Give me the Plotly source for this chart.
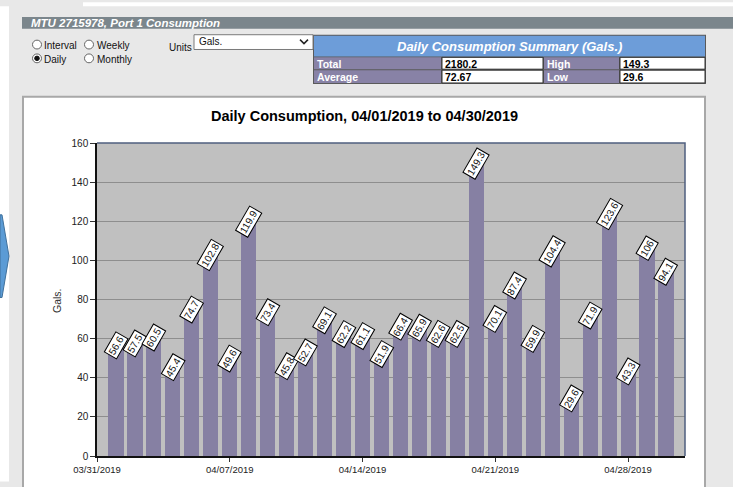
import plotly.graph_objects as go

# ---------------- data ----------------
dates = ["2019-04-01", "2019-04-02", "2019-04-03", "2019-04-04", "2019-04-05",
         "2019-04-06", "2019-04-07", "2019-04-08", "2019-04-09", "2019-04-10",
         "2019-04-11", "2019-04-12", "2019-04-13", "2019-04-14", "2019-04-15",
         "2019-04-16", "2019-04-17", "2019-04-18", "2019-04-19", "2019-04-20",
         "2019-04-21", "2019-04-22", "2019-04-23", "2019-04-24", "2019-04-25",
         "2019-04-26", "2019-04-27", "2019-04-28", "2019-04-29", "2019-04-30"]
gallons = [56.6, 57.5, 60.5, 45.4, 74.7, 102.8, 49.6, 119.9, 73.4, 45.8,
           52.7, 69.1, 62.2, 61.1, 51.9, 66.4, 65.9, 62.6, 62.5, 149.3,
           70.1, 87.4, 59.9, 104.4, 29.6, 71.9, 123.6, 43.3, 106, 94.1]
summary_labels = ["Total", "Average", "High", "Low"]
summary_values = ["2180.2", "72.67", "149.3", "29.6"]
radio_options = ["Interval", "Weekly", "Daily", "Monthly"]

W, H = 733, 487
L, R, T, B = 97, 685, 143, 461   # plot area in pixels


def X(px):
    return (px - L) / (R - L)


def Y(py):
    return (B - py) / (B - T)


FONT = "Liberation Sans, Arial, sans-serif"
NARROW = "Liberation Sans Narrow, Arial Narrow, Liberation Sans, sans-serif"
BAR = "#8680a3"

fig = go.Figure()
fig.add_trace(go.Bar(
    x=dates, y=gallons, width=0.8 * 86400000,
    marker=dict(color=BAR, line=dict(width=0)),
    hoverinfo="skip",
))

shapes = []


def rect(x0, y0, x1, y1, fill, line=None, lw=0, layer="below"):
    shapes.append(dict(type="rect", xref="paper", yref="paper",
                       x0=X(x0), x1=X(x1), y0=Y(y1), y1=Y(y0),
                       fillcolor=fill, layer=layer,
                       line=dict(color=line or fill, width=lw)))


def circle(cx, cy, r, fill, line, lw=1):
    shapes.append(dict(type="circle", xref="paper", yref="paper",
                       x0=X(cx - r), x1=X(cx + r), y0=Y(cy + r), y1=Y(cy - r),
                       fillcolor=fill, layer="above",
                       line=dict(color=line, width=lw)))


def path(pts, fill=None, line="#000", lw=1, close=False):
    d = "M " + " L ".join(f"{X(a):.5f},{Y(b):.5f}" for a, b in pts)
    if close:
        d += " Z"
    s = dict(type="path", xref="paper", yref="paper", path=d, layer="above",
             line=dict(color=line, width=lw))
    if fill:
        s["fillcolor"] = fill
    shapes.append(s)


# page pieces
rect(83, 0, 733, 4, "#ffffff")
rect(0, 4, 9, 487, "#ffffff")
rect(22, 15, 733, 27, "#7b868c")
# chart panel
rect(23, 96, 705, 495, "#ffffff", "#a8a8a8", 2)
# plot area
rect(L, T, R, B, "#c0c0c0")

# summary table
rect(313, 33, 706, 83, "#5a5a5a")
rect(314, 34, 705, 55, "#6d9dd9")
rect(314, 56, 441, 68, "#8882a6")
rect(314, 69, 441, 82, "#8882a6")
rect(544, 56, 619, 68, "#8882a6")
rect(544, 69, 619, 82, "#8882a6")
rect(442, 56, 543, 68, "#ffffff", "#333333", 1)
rect(442, 69, 543, 82, "#ffffff", "#333333", 1)
rect(620, 56, 705, 68, "#ffffff", "#333333", 1)
rect(620, 69, 705, 82, "#ffffff", "#333333", 1)

# dropdown
rect(194, 33, 313, 48, "#ffffff", "#7a7a7a", 1)
path([(300, 38), (304, 42), (308, 38)], line="#222", lw=1.5)

# radio buttons
for cx, cy in [(37, 43), (89, 43), (37, 57), (89, 57)]:
    circle(cx, cy, 4.5, "#ffffff", "#666666", 1)
circle(37, 57, 2.3, "#111111", "#111111", 1)

# chevron at left edge
path([(0, 216), (2, 216), (9, 258), (2, 300), (0, 300)],
     fill="#5b9bd5", line="#41719c", lw=1, close=True)

# plot top/right border
path([(L, T), (R, T), (R, B)], line="#4f5f7f", lw=1.5)

annotations = []


def text(x, y, s, size=10, color="#000", family=FONT, xanchor="left",
         yanchor="middle", angle=0, bold=False, italic=False):
    if bold:
        s = f"<b>{s}</b>"
    if italic:
        s = f"<i>{s}</i>"
    annotations.append(dict(x=X(x), y=Y(y), xref="paper", yref="paper",
                            text=s, showarrow=False, xanchor=xanchor,
                            yanchor=yanchor, textangle=angle,
                            font=dict(size=size, color=color, family=family)))


text(29, 21, "MTU 2715978, Port 1 Consumption", 11.5, "#ffffff", NARROW,
     bold=True, italic=True)
text(42, 44, radio_options[0], 10, "#111", NARROW)
text(95, 44, radio_options[1], 10, "#111", NARROW)
text(42, 58, radio_options[2], 10, "#111", NARROW)
text(95, 58, radio_options[3], 10, "#111", NARROW)
text(167, 46, "Units", 10, "#111", NARROW)
text(197, 40, "Gals.", 10, "#111", NARROW)
text(509, 45, "Daily Consumption Summary (Gals.)", 13, "#ffffff", NARROW,
     xanchor="center", bold=True, italic=True)
text(315, 62.5, summary_labels[0], 10.5, "#ffffff", NARROW, bold=True)
text(315, 76, summary_labels[1], 10.5, "#ffffff", NARROW, bold=True)
text(545, 62.5, summary_labels[2], 10.5, "#ffffff", NARROW, bold=True)
text(545, 76, summary_labels[3], 10.5, "#ffffff", NARROW, bold=True)
text(443, 62.5, summary_values[0], 10.5, "#000", NARROW, bold=True)
text(443, 76, summary_values[1], 10.5, "#000", NARROW, bold=True)
text(621, 62.5, summary_values[2], 10.5, "#000", NARROW, bold=True)
text(621, 76, summary_values[3], 10.5, "#000", NARROW, bold=True)

# chart title and y title
text(364, 116, "Daily Consumption, 04/01/2019 to 04/30/2019", 14.5, "#000",
     FONT, xanchor="center", bold=True)
text(57.5, 303, "Gals.", 10.5, "#333", FONT, xanchor="center", angle=-90)

# value labels
for d, v in zip(dates, gallons):
    annotations.append(dict(
        x=d, y=v, xref="x", yref="y", text=f"{v:g}", showarrow=False,
        xanchor="center", yanchor="middle", textangle=-60,
        bgcolor="#ffffff", bordercolor="#000000", borderwidth=1, borderpad=1,
        font=dict(size=10, color="#111", family=FONT)))

fig.update_layout(
    width=W, height=H,
    margin=dict(l=L, r=W - R, t=T, b=H - B, pad=0),
    paper_bgcolor="#e8e8e8",
    plot_bgcolor="rgba(0,0,0,0)",
    showlegend=False,
    bargap=0,
    shapes=shapes,
    annotations=annotations,
    xaxis=dict(
        type="date", range=["2019-03-31", "2019-05-01"],
        tick0="2019-03-31", dtick=7 * 86400000, tickformat="%m/%d/%Y",
        showgrid=False, showline=True, linecolor="#111", linewidth=1.5,
        ticks="outside", ticklen=4, tickcolor="#333",
        tickfont=dict(size=9.5, color="#222", family=FONT),
        zeroline=False, fixedrange=True,
    ),
    yaxis=dict(
        range=[0, 160], dtick=20, showgrid=True, gridcolor="#8e8e8e",
        gridwidth=1, showline=True, linecolor="#111", linewidth=1.5,
        ticks="outside", ticklen=5, tickcolor="#333",
        tickfont=dict(size=10, color="#222", family=FONT),
        zeroline=False, fixedrange=True,
    ),
)

fig.write_html(
    "out.html",
    config={"displayModeBar": False},
    post_script="document.body.style.margin='0';"
                "document.body.style.overflow='hidden';",
)
